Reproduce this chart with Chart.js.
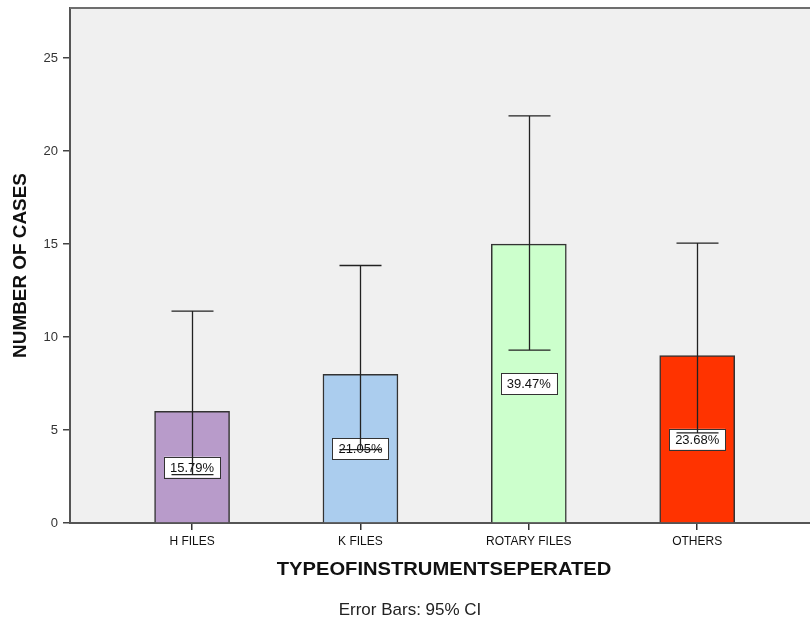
<!DOCTYPE html>
<html>
<head>
<meta charset="utf-8">
<script src="https://cdn.jsdelivr.net/npm/chart.js@4.4.1/dist/chart.umd.min.js"></script>
<style>
  html, body { margin: 0; padding: 0; background: #ffffff; }
  #wrap { width: 810px; height: 622px; }
</style>
</head>
<body>
<div id="wrap"><canvas id="myBarChart" width="810" height="622"></canvas></div>
<script>
// values
const categories = ['H FILES', 'K FILES', 'ROTARY FILES', 'OTHERS'];
const cases = [6, 8, 15, 9];
const ciLower = [2.6, 3.95, 9.3, 4.85];
const ciUpper = [11.4, 13.85, 21.9, 15.05];
const percentLabels = ['15.79%', '21.05%', '39.47%', '23.68%'];
const yTicks = [0, 5, 10, 15, 20, 25];
const barColors = ['#b89bca', '#abcdee', '#ccffcc', '#ff3300'];

const xTitle = 'TYPEOFINSTRUMENTSEPERATED';
const yTitle = 'NUMBER OF CASES';
const footNote = 'Error Bars: 95% CI';

const FONT = "'Liberation Sans', Arial, sans-serif";

// grey plot background + top border
const plotFrame = {
    id: 'plotFrame',
    beforeDraw(chart) {
        const a = chart.chartArea;
        const ctx = chart.ctx;
        ctx.save();
        ctx.fillStyle = '#f0f0f0';
        ctx.fillRect(a.left, a.top, a.right - a.left, a.bottom - a.top);
        ctx.restore();
    },
    afterDraw(chart) {
        const a = chart.chartArea;
        const ctx = chart.ctx;
        ctx.save();
        ctx.strokeStyle = '#6e6e6e';
        ctx.lineWidth = 2;
        ctx.beginPath();
        ctx.moveTo(a.left, a.top);
        ctx.lineTo(a.right, a.top);
        ctx.stroke();
        ctx.restore();
    }
};

// SPSS style titles: slightly wide bold text
const axisTitles = {
    id: 'axisTitles',
    afterDraw(chart) {
        const a = chart.chartArea;
        const ctx = chart.ctx;
        ctx.save();
        ctx.fillStyle = '#111111';
        ctx.textAlign = 'center';
        ctx.textBaseline = 'middle';

        ctx.font = 'bold 18px ' + FONT;
        ctx.save();
        ctx.translate((a.left + a.right) / 2 + 4, 570);
        ctx.scale(1.12, 1);
        ctx.fillText(xTitle, 0, 0);
        ctx.restore();

        ctx.save();
        ctx.translate(21, (a.top + a.bottom) / 2);
        ctx.rotate(-Math.PI / 2);
        ctx.scale(1.05, 1);
        ctx.fillText(yTitle, 0, 0);
        ctx.restore();

        ctx.font = '17px ' + FONT;
        ctx.fillStyle = '#222222';
        ctx.fillText(footNote, 410, 610);
        ctx.restore();
    }
};

// percent boxes in the middle of each bar, then the CI whiskers on top
const labelsAndErrors = {
    id: 'labelsAndErrors',
    afterDatasetsDraw(chart) {
        const ctx = chart.ctx;
        const xs = chart.scales.x;
        const ys = chart.scales.y;
        ctx.save();
        ctx.font = '13px ' + FONT;
        ctx.textAlign = 'center';
        ctx.textBaseline = 'middle';
        for (let i = 0; i < cases.length; i++) {
            const x = xs.getPixelForValue(i);
            const y = ys.getPixelForValue(cases[i] / 2);
            const w = 56, h = 21;
            ctx.fillStyle = '#ffffff';
            ctx.fillRect(x - w / 2, y - h / 2, w, h);
            ctx.strokeStyle = '#333333';
            ctx.lineWidth = 1;
            ctx.strokeRect(Math.round(x - w / 2) + 0.5, Math.round(y - h / 2) + 0.5, w, h);
            ctx.fillStyle = '#111111';
            ctx.fillText(percentLabels[i], x, y + 1);
        }
        ctx.strokeStyle = '#222222';
        ctx.lineWidth = 1.3;
        for (let i = 0; i < cases.length; i++) {
            const x = Math.round(xs.getPixelForValue(i)) + 0.5;
            const yt = ys.getPixelForValue(ciUpper[i]);
            const yb = ys.getPixelForValue(ciLower[i]);
            ctx.beginPath();
            ctx.moveTo(x, yt);
            ctx.lineTo(x, yb);
            ctx.moveTo(x - 21, yt);
            ctx.lineTo(x + 21, yt);
            ctx.moveTo(x - 21, yb);
            ctx.lineTo(x + 21, yb);
            ctx.stroke();
        }
        ctx.restore();
    }
};

function createChartBar() {
    const ctxmyBarChart = document.getElementById('myBarChart');
    return new Chart(ctxmyBarChart, {
        type: 'bar',
        data: {
            datasets: [{
                data: cases.map((v, i) => ({ x: i, y: v })),
                backgroundColor: barColors,
                borderColor: '#333333',
                borderWidth: 1.5,
                barThickness: 75
            }]
        },
        options: {
            responsive: false,
            animation: false,
            layout: { padding: { top: 8, right: 0, left: 0, bottom: 0 } },
            plugins: {
                legend: { display: false },
                tooltip: { enabled: false },
                title: { display: false }
            },
            scales: {
                x: {
                    type: 'linear',
                    min: -0.725,
                    max: 3.67,
                    offset: false,
                    afterBuildTicks: (scale) => {
                        scale.ticks = categories.map((c, i) => ({ value: i }));
                    },
                    afterFit: (scale) => { scale.height = 99; },
                    ticks: {
                        autoSkip: false,
                        maxRotation: 0,
                        padding: 4,
                        color: '#111111',
                        font: { family: FONT, size: 12 },
                        callback: (v) => categories[v]
                    },
                    grid: {
                        offset: false,
                        drawOnChartArea: false,
                        drawTicks: true,
                        tickLength: 7,
                        color: '#333333',
                        lineWidth: 1.5
                    },
                    border: { display: true, color: '#555555', width: 2 },
                    title: { display: false, text: xTitle }
                },
                y: {
                    min: 0,
                    max: 27.7,
                    afterBuildTicks: (scale) => {
                        scale.ticks = yTicks.map(v => ({ value: v }));
                    },
                    afterFit: (scale) => {
                        scale.width = 70;
                        scale.paddingTop = 0;
                        scale.paddingBottom = 0;
                    },
                    ticks: {
                        padding: 5,
                        color: '#333333',
                        font: { family: FONT, size: 13 }
                    },
                    grid: {
                        drawOnChartArea: false,
                        drawTicks: true,
                        tickLength: 7,
                        color: '#444444',
                        lineWidth: 1.5
                    },
                    border: { display: true, color: '#555555', width: 2 },
                    title: { display: false, text: yTitle }
                }
            }
        },
        plugins: [plotFrame, labelsAndErrors, axisTitles]
    });
}

let myBarChart_ = createChartBar();
</script>
</body>
</html>
